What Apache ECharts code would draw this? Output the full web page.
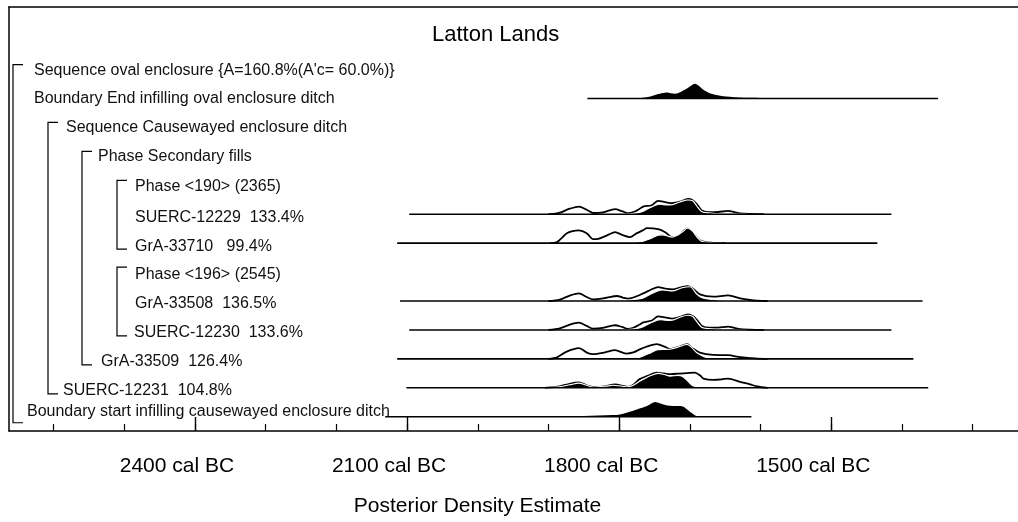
<!DOCTYPE html>
<html>
<head>
<meta charset="utf-8">
<script src="https://cdn.jsdelivr.net/npm/echarts@6/dist/echarts.min.js"></script>
<style>
  html, body { margin: 0; padding: 0; background: #fff; }
  #chart { width: 1018px; height: 522px; }
</style>
</head>
<body>
<div id="chart"></div>
<script>
// rows, top to bottom
const rowLabels = [
  "Sequence oval enclosure {A=160.8%(A'c= 60.0%)}",
  "Boundary End infilling oval enclosure ditch",
  "Sequence Causewayed enclosure ditch",
  "Phase Secondary fills",
  "Phase <190> (2365)",
  "SUERC-12229  133.4%",
  "GrA-33710   99.4%",
  "Phase <196> (2545)",
  "GrA-33508  136.5%",
  "SUERC-12230  133.6%",
  "GrA-33509  126.4%",
  "SUERC-12231  104.8%",
  "Boundary start infilling causewayed enclosure ditch"
];
// bracket groups: [first row, last row]
const groups = [[0, 12], [2, 11], [3, 10], [4, 6], [7, 9]];

const tickYears = [2600, 2500, 2400, 2300, 2200, 2100, 2000, 1900, 1800, 1700, 1600, 1500, 1400, 1300];
const labelYears = [2400, 2100, 1800, 1500];

// [cal BC, relative density]
const beEndPost = [[1800,0],[1770,0.5],[1756,2],[1747,4],[1738,5.5],[1733,6],[1727,5.2],[1721,4.7],[1713,6.5],[1703,10.5],[1693,14.7],[1681,8.7],[1672,5.3],[1657,2.7],[1640,1.5],[1629,1],[1600,0.6],[1560,0.3],[1500,0]];

const suerc12229Lik = [[1900,0],[1890,0.6],[1884,1.5],[1870,5.5],[1857,7.7],[1846,4.5],[1837,1.2],[1823,1.8],[1806,5],[1796,3],[1788,1],[1780,2],[1771,5.5],[1766,7.7],[1754,9],[1745,13.3],[1735,12.2],[1725,11],[1714,12.5],[1703,15.3],[1696,14],[1690,10],[1683,3.7],[1672,2],[1660,2.2],[1646,3.3],[1637,2],[1629,0.8],[1615,0.3],[1595,0]];
const suerc12229Post = [[1800,0],[1785,0.5],[1775,1.3],[1766,3],[1756,6.7],[1742,10],[1732,9.3],[1725,9.5],[1714,12.3],[1703,14.3],[1696,13.5],[1690,8],[1683,2.5],[1667,1],[1645,0.4],[1620,0]];

const gra33710Lik = [[1898,0],[1888,1],[1880,6],[1874,10],[1866,12],[1857,12.7],[1846,10],[1837,4],[1830,4.2],[1823,6],[1815,8.5],[1806,11],[1795,8],[1785,6],[1775,10],[1766,13],[1761,15],[1745,14],[1735,11],[1725,6],[1715,8],[1704,14.5],[1696,10],[1690,5.5],[1683,1.7],[1670,0.5],[1650,0]];
const gra33710Post = [[1795,0],[1780,0.6],[1766,2],[1756,4.5],[1745,8],[1738,8.3],[1732,7.2],[1725,6],[1716,8.5],[1710,11.5],[1704,15],[1697,12.5],[1690,6],[1683,1.7],[1670,0.6],[1655,0]];

const gra33508Lik = [[1900,0],[1884,1.5],[1870,5.5],[1857,7.7],[1846,4],[1837,1.7],[1820,3],[1803,5],[1795,3.5],[1788,2.3],[1780,3.5],[1766,7.7],[1756,11],[1745,14],[1735,12.5],[1724,11.7],[1714,13.5],[1703,15],[1696,12.5],[1686,6.7],[1667,4.3],[1646,5.7],[1629,2.7],[1615,1],[1605,0.3],[1590,0]];
const gra33508Post = [[1800,0],[1775,1.7],[1766,3],[1756,6.7],[1739,11],[1725,10],[1711,13.3],[1700,14.3],[1690,6.7],[1683,3.3],[1662,1],[1640,0.3],[1620,0]];

const suerc12230Lik = [[1900,0],[1884,1.5],[1870,5.3],[1857,7.3],[1846,4],[1837,1.3],[1823,2],[1806,4.7],[1796,3],[1788,1],[1780,2.2],[1771,5.5],[1766,7.5],[1754,9.5],[1745,13.5],[1735,12.5],[1725,11.3],[1714,13],[1703,15.5],[1696,14],[1690,10],[1683,4],[1672,2.2],[1660,2.3],[1646,3.3],[1637,2],[1629,0.8],[1615,0.3],[1595,0]];
const suerc12230Post = [[1800,0],[1785,0.6],[1775,1.5],[1766,3.2],[1756,7],[1742,10.3],[1732,9.5],[1725,9.7],[1714,12.7],[1703,14.7],[1696,13.5],[1690,8],[1683,2.5],[1667,1],[1645,0.4],[1620,0]];

const gra33509Lik = [[1900,0],[1888,1.5],[1875,7],[1857,10.7],[1845,6],[1837,4.7],[1820,6.5],[1806,8.7],[1790,5.3],[1780,6.5],[1771,9.5],[1760,12.5],[1747,14.7],[1735,12],[1728,9.7],[1716,12],[1704,14.7],[1697,11],[1686,6.3],[1667,4],[1646,3.7],[1629,1.8],[1615,0.8],[1605,0.2],[1590,0]];
const gra33509Post = [[1795,0],[1775,1],[1766,3],[1756,6],[1745,9.3],[1735,9.5],[1728,9.7],[1716,12],[1704,14.5],[1697,11],[1690,6],[1679,2],[1665,0.6],[1640,0]];

const suerc12231Lik = [[1905,0],[1884,1.5],[1870,4],[1857,5.3],[1846,2.5],[1837,0.8],[1820,1.5],[1806,3.3],[1788,1],[1780,3],[1771,8.7],[1760,12],[1747,15.3],[1738,14.5],[1728,13.7],[1714,14.3],[1704,14.8],[1693,15.3],[1685,12],[1681,9.3],[1667,8],[1655,8.5],[1646,9.3],[1629,6],[1615,3.5],[1605,1.3],[1590,0]];
const suerc12231Post = [[1910,0],[1884,1],[1870,3],[1857,4.7],[1846,2.5],[1837,0.8],[1820,1.5],[1809,2.5],[1800,2],[1788,1],[1780,2.5],[1771,6.5],[1766,8.5],[1756,12],[1745,14.5],[1735,13],[1728,11.7],[1717,12.5],[1711,11.5],[1703,6.7],[1696,2],[1686,0.5],[1670,0]];

const bStartPost = [[2060,0],[1950,0.3],[1850,0.8],[1809,1.7],[1799,2.3],[1785,5],[1775,7.3],[1760,11],[1749,14.7],[1743,13.5],[1732,11.3],[1717,10.7],[1710,10.3],[1704,7.3],[1696,3],[1690,0.5],[1683,0]];

// plotted items: row, range [from, to] cal BC, likelihood, posterior
const items = [
  { row: 1, range: [1845, 1349], lik: null, post: beEndPost },
  { row: 5, range: [2097, 1415], lik: suerc12229Lik, post: suerc12229Post },
  { row: 6, range: [2114, 1435], lik: gra33710Lik, post: gra33710Post },
  { row: 8, range: [2110, 1371], lik: gra33508Lik, post: gra33508Post },
  { row: 9, range: [2097, 1415], lik: suerc12230Lik, post: suerc12230Post },
  { row: 10, range: [2114, 1384], lik: gra33509Lik, post: gra33509Post },
  { row: 11, range: [2101, 1363], lik: suerc12231Lik, post: suerc12231Post },
  { row: 12, range: [2131, 1613], lik: null, post: bStartPost }
];

// layout
const labelX = [34, 34, 66, 98, 135, 135, 135, 135, 135, 134, 101, 63, 27];
const labelDy = [1, 0, 0, 0, 1, 3, 3, 3, 3, 3, 3, 3, -5];
const bracketX = [13, 48, 82, 117, 117];
const densScale = 1 / 29;
const X_MIN = 1236, X_MAX = 2663;
const FONT = '"Liberation Sans", Arial, Helvetica, sans-serif';

const series = [];
items.forEach((it) => {
  const toPt = ([bc, d]) => [bc, it.row - d * densScale];
  if (it.lik) {
    series.push({
      type: 'line', data: it.lik.map(toPt), smooth: 0.3, symbol: 'none',
      lineStyle: { color: '#000', width: 1.8 }, z: 2, silent: true
    });
  }
  series.push({
    type: 'line', data: it.post.map(toPt), smooth: 0.3, symbol: 'none',
    lineStyle: { color: '#fff', width: it.lik ? 1.1 : 0 },
    areaStyle: { color: '#000', opacity: 1, origin: it.row }, z: 3, silent: true
  });
  series.push({
    type: 'line', data: [[it.range[0], it.row], [it.range[1], it.row]], symbol: 'none',
    lineStyle: { color: '#000', width: 1.6 }, z: 4, silent: true
  });
});

series.push({
  type: 'custom', z: 5, silent: true,
  data: rowLabels.map((t, i) => [X_MAX, i]),
  renderItem: (params, api) => {
    const i = params.dataIndex;
    const y = api.coord([api.value(0), api.value(1)])[1];
    return {
      type: 'text', x: labelX[i], y: y + labelDy[i],
      style: { text: rowLabels[i], fill: '#111', fontSize: 16, fontFamily: FONT, verticalAlign: 'middle', align: 'left' }
    };
  }
});

series.push({
  type: 'custom', z: 5, silent: true,
  data: groups.map((g) => [X_MAX, g[0], g[1]]),
  renderItem: (params, api) => {
    const bx = bracketX[params.dataIndex];
    const y0 = api.coord([api.value(0), api.value(1)])[1] - 5;
    const y1 = api.coord([api.value(0), api.value(2)])[1] + 6;
    return {
      type: 'polyline',
      shape: { points: [[bx + 10, y0], [bx, y0], [bx, y1], [bx + 10, y1]] },
      style: { stroke: '#000', lineWidth: 1.2, fill: null }
    };
  }
});

const chart = echarts.init(document.getElementById('chart'));
chart.setOption({
  animation: false,
  title: {
    text: 'Latton Lands', left: 432, top: 24, padding: 0,
    textStyle: { fontSize: 22, fontWeight: 'normal', color: '#000', fontFamily: FONT }
  },
  grid: { left: 9, right: 0, top: 7, bottom: 90, show: false },
  xAxis: [
    {
      type: 'value', inverse: true, min: X_MIN, max: X_MAX, position: 'bottom',
      axisLine: { show: true, onZero: false, lineStyle: { color: '#000', width: 1.5 } },
      axisTick: { show: true, inside: true, length: 7, customValues: tickYears, lineStyle: { color: '#000', width: 1.2 } },
      axisLabel: { show: false },
      splitLine: { show: false },
      name: 'Posterior Density Estimate', nameLocation: 'middle', nameGap: 65,
      nameTextStyle: { fontSize: 21, color: '#000', fontFamily: FONT, padding: [0, 72, 0, 0] }
    },
    {
      type: 'value', inverse: true, min: X_MIN, max: X_MAX, position: 'bottom',
      axisLine: { show: false, onZero: false },
      axisTick: { show: true, inside: true, length: 14, customValues: labelYears, lineStyle: { color: '#000', width: 1.4 } },
      axisLabel: {
        show: true, customValues: labelYears, margin: 25, fontSize: 21, color: '#000', fontFamily: FONT,
        padding: [0, 36, 0, 0], formatter: (v) => v + ' cal BC'
      },
      splitLine: { show: false }
    },
    {
      // top edge of the frame
      type: 'value', inverse: true, min: X_MIN, max: X_MAX, position: 'top',
      axisLine: { show: true, onZero: false, lineStyle: { color: '#000', width: 1.5 } },
      axisTick: { show: false }, axisLabel: { show: false }, splitLine: { show: false }
    }
  ],
  yAxis: {
    type: 'value', inverse: true, min: -2.162, max: 12.493, position: 'left',
    axisLine: { show: true, onZero: false, lineStyle: { color: '#000', width: 1.5 } },
    axisTick: { show: false }, axisLabel: { show: false }, splitLine: { show: false }
  },
  series: series
});
</script>
</body>
</html>
